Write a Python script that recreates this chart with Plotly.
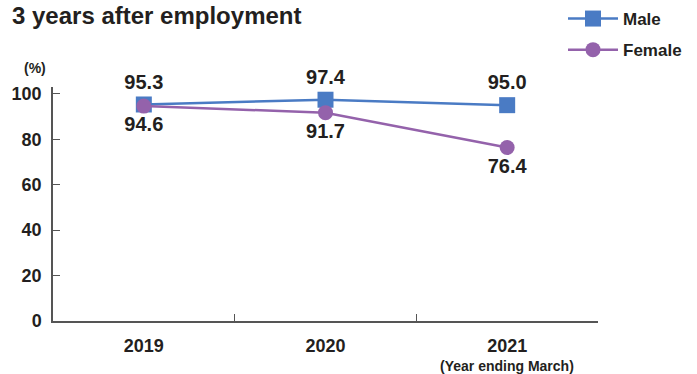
import plotly.graph_objects as go

years = ["2019", "2020", "2021"]
male = [95.3, 97.4, 95.0]
female = [94.6, 91.7, 76.4]
y_ticks = [0, 20, 40, 60, 80, 100]

FONT = "Liberation Sans, Arial, Helvetica, sans-serif"
INK = "#231f20"
BLUE = "#4a7bc4"
PURPLE = "#9462ab"
AXIS = "#555555"

# plot area in pixels
L, R, T, B = 53, 99, 87, 53
W, H = 697, 374
PW, PH = W - L - R, H - T - B

fig = go.Figure()
fig.add_trace(go.Scatter(
    x=years, y=male, name="Male", mode="lines+markers+text", legendgroup="m",
    line=dict(color=BLUE, width=2.5),
    marker=dict(symbol="square", size=16, color=BLUE),
    text=[f"{v:.1f}" for v in male], textposition="top center",
    textfont=dict(family=FONT, size=20, color=INK, weight="bold"),
    cliponaxis=False,
))
fig.add_trace(go.Scatter(
    x=years, y=female, name="Female", mode="lines+markers+text", legendgroup="f",
    line=dict(color=PURPLE, width=2.5),
    marker=dict(symbol="circle", size=15, color=PURPLE),
    text=[f"{v:.1f}" for v in female], textposition="bottom center",
    textfont=dict(family=FONT, size=20, color=INK, weight="bold"),
    cliponaxis=False,
))

fig.update_layout(
    width=W, height=H,
    margin=dict(l=L, r=R, t=T, b=B, autoexpand=False),
    paper_bgcolor="white", plot_bgcolor="white",
    font=dict(family=FONT, color=INK),
    showlegend=True,
    legend=dict(
        x=(563 - L) / PW, y=1 - 1 / H, xref="paper", yref="container",
        xanchor="left", yanchor="top",
        font=dict(family=FONT, size=17, color=INK, weight="bold"),
        itemwidth=50, tracegroupgap=6, bgcolor="rgba(0,0,0,0)",
    ),
    xaxis=dict(
        type="category", range=[-0.5, 2.5],
        showline=True, linecolor=AXIS, linewidth=1.5,
        ticks="inside", tickson="boundaries", ticklen=7, tickcolor=AXIS,
        showgrid=False, zeroline=False,
        tickfont=dict(family=FONT, size=18, color=INK, weight="bold"),
        ticklabelstandoff=8,
    ),
    yaxis=dict(
        range=[0, 103], tickvals=y_ticks,
        showline=True, linecolor=AXIS, linewidth=1.5,
        ticks="inside", ticklen=7, tickcolor=AXIS,
        showgrid=False, zeroline=False,
        tickfont=dict(family=FONT, size=18, color=INK, weight="bold"),
        ticklabelstandoff=6,
    ),
    annotations=[
        dict(text="3 years after employment",
             x=(10 - L) / PW, y=1 + (T - 16) / PH, xref="paper", yref="paper",
             showarrow=False, xanchor="left", yanchor="middle",
             font=dict(family=FONT, size=24, color=INK, weight="bold")),
        dict(text="(%)", x=(35 - L) / PW, y=1 + (T - 68) / PH, xref="paper", yref="paper",
             showarrow=False, xanchor="center", yanchor="middle",
             font=dict(family=FONT, size=14, color=INK, weight="bold")),
        dict(text="(Year ending March)", x=(507 - L) / PW, y=-(366 - (H - B)) / PH,
             xref="paper", yref="paper",
             showarrow=False, xanchor="center", yanchor="middle",
             font=dict(family=FONT, size=14, color=INK, weight="bold")),
    ],
)

fig.write_html("out.html")
